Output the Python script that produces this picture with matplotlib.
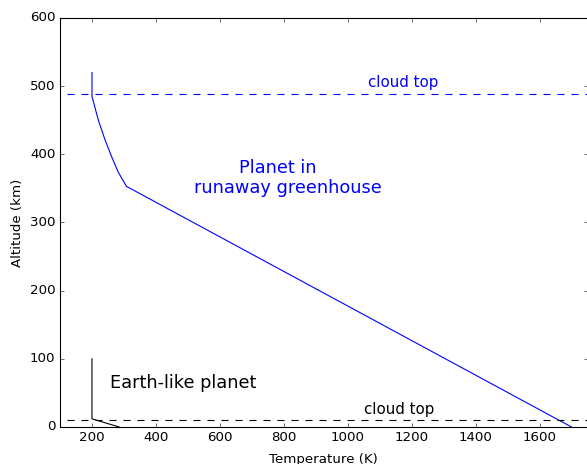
import matplotlib
matplotlib.use("Agg")
import matplotlib.pyplot as plt

plt.style.use('classic')
plt.rcParams['figure.facecolor'] = 'white'
plt.rcParams['savefig.facecolor'] = 'white'
plt.rcParams['font.family'] = ['DejaVu Sans']

# Runaway greenhouse profile
T_hot = [200, 200, 220, 241, 262, 282, 308, 1700]
alt_hot = [520, 485, 450, 421, 396, 374, 353, 0]
cloud_hot = 488

# Earth-like profile
T_earth = [200, 200, 285]
alt_earth = [100, 12, 0]
cloud_earth = 11

xticks = [200, 400, 600, 800, 1000, 1200, 1400, 1600]
yticks = [0, 100, 200, 300, 400, 500, 600]

W, H = 587, 464
dpi = 80
fig = plt.figure(figsize=(W / dpi, H / dpi), dpi=dpi)
ax = fig.add_axes([60 / W, 37 / H, 527.5 / W, 409 / H])

dash = (6.3, 6.3)
ax.plot(T_hot, alt_hot, color='b', lw=1)
ax.plot([122, 2000], [cloud_hot, cloud_hot], color='b', ls='--', dashes=dash, lw=1)
ax.plot(T_earth, alt_earth, color='k', lw=1)
ax.plot([122, 2000], [cloud_earth, cloud_earth], color='k', ls='--', dashes=dash, lw=1)

ax.text(780, 380, 'Planet in', color='b', fontsize=16, ha='center', va='center')
ax.text(812, 350, 'runaway greenhouse', color='b', fontsize=16, ha='center', va='center')
ax.text(256, 64, 'Earth-like planet', color='k', fontsize=16,
        ha='left', va='center')
ax.text(1175, 495, 'cloud top', color='b', fontsize=13.5, ha='center', va='bottom')
ax.text(1161, 15, 'cloud top', color='k', fontsize=13.5, ha='center', va='bottom')

ax.set_xlim(100, 1750)
ax.set_ylim(0, 600)
ax.set_xticks(xticks)
ax.set_yticks(yticks)
ax.tick_params(labelsize=12)
ax.set_xlabel('Temperature (K)', fontsize=12, labelpad=7.5)
ax.set_ylabel('Altitude (km)', fontsize=12, labelpad=5.5)

fig.savefig('out.png', dpi=dpi)
